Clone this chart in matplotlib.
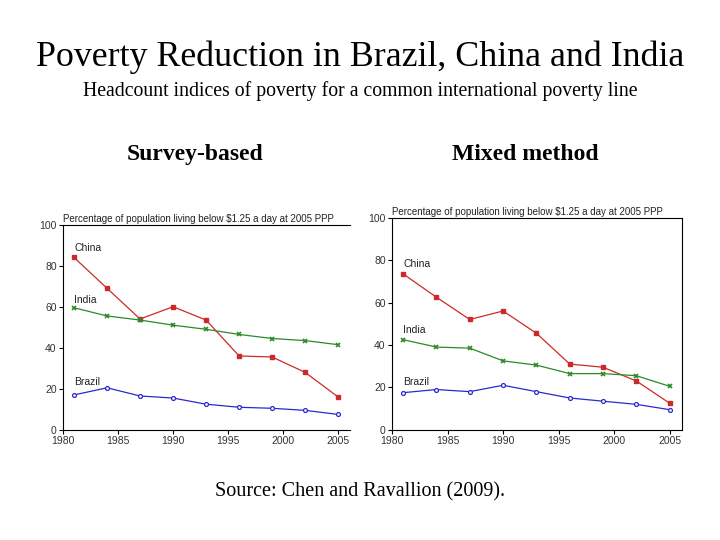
import matplotlib
matplotlib.use("Agg")
import matplotlib.pyplot as plt

years = [1981, 1984, 1987, 1990, 1993, 1996, 1999, 2002, 2005]

# Survey-based
survey_china = [84, 69, 54, 60, 53.5, 36, 35.5, 28, 16]
survey_india = [59.5, 55.5, 53.5, 51, 49, 46.5, 44.5, 43.5, 41.5]
survey_brazil = [17, 20.5, 16.5, 15.5, 12.5, 11, 10.5, 9.5, 7.5]

# Mixed method
mixed_china = [73.5, 62.5, 52, 56, 45.5, 31, 29.5, 23, 12.5]
mixed_india = [42.5, 39, 38.5, 32.5, 30.5, 26.5, 26.5, 25.5, 20.5]
mixed_brazil = [17.5, 19, 18, 21, 18, 15, 13.5, 12, 9.5]

x_ticks = [1980, 1985, 1990, 1995, 2000, 2005]
y_ticks = [0, 20, 40, 60, 80, 100]
panel_titles = ["Survey-based", "Mixed method"]
chart_caption = "Percentage of population living below $1.25 a day at 2005 PPP"

SERIF = "Liberation Serif"
SANS = "Liberation Sans"

fig = plt.figure(figsize=(7.2, 5.4), dpi=100)
fig.patch.set_facecolor("white")

fig.text(0.5, 0.894, "Poverty Reduction in Brazil, China and India",
         ha="center", va="center", family=SERIF, fontsize=25.8)
fig.text(0.5, 0.831, "Headcount indices of poverty for a common international poverty line",
         ha="center", va="center", family=SERIF, fontsize=14.2)
fig.text(0.271, 0.713, panel_titles[0], ha="center", va="center",
         family=SERIF, fontsize=17, fontweight="bold")
fig.text(0.729, 0.713, panel_titles[1], ha="center", va="center",
         family=SERIF, fontsize=17, fontweight="bold")
fig.text(0.5, 0.089, "Source: Chen and Ravallion (2009).", ha="center", va="center",
         family=SERIF, fontsize=14.5)


def draw_panel(ax, china, india, brazil, labels_y, boxed):
    ax.plot(years, china, color="#cc2a2a", lw=0.9, marker="s", ms=2.8)
    ax.plot(years, india, color="#2a8a2a", lw=0.9, marker="x", ms=3.2, mew=1.2)
    ax.plot(years, brazil, color="#2a2acc", lw=0.9, marker="o", ms=2.8,
            mfc="white", mew=0.9)
    for name, yv in zip(["China", "India", "Brazil"], labels_y):
        ax.text(1981, yv, name, family=SANS, fontsize=7.5, va="bottom", ha="left",
                color="#222222")
    ax.set_xlim(1980, 2006.1)
    ax.set_ylim(0, 100)
    ax.set_xticks(x_ticks)
    ax.set_yticks(y_ticks)
    for lab in ax.get_xticklabels() + ax.get_yticklabels():
        lab.set_family(SANS)
        lab.set_fontsize(7.5)
        lab.set_color("#333333")
    ax.tick_params(length=3, width=0.8, pad=1.5)
    for sp in ax.spines.values():
        sp.set_linewidth(0.8)
    if not boxed:
        ax.spines["right"].set_visible(False)
    ax.set_title(chart_caption, family=SANS, fontsize=7, pad=2, loc="left",
                 color="#222222")


ax1 = fig.add_axes([0.0875, 0.204, 0.399, 0.380])
draw_panel(ax1, survey_china, survey_india, survey_brazil, [86, 61, 21], boxed=False)

ax2 = fig.add_axes([0.5444, 0.204, 0.4028, 0.393])
draw_panel(ax2, mixed_china, mixed_india, mixed_brazil, [76, 44.5, 20], boxed=True)

fig.savefig("out.png", dpi=100)
